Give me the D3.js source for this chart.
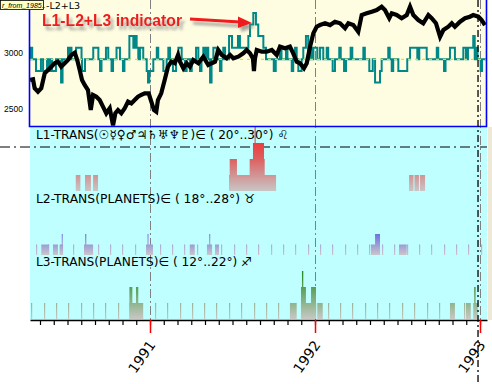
<!DOCTYPE html>
<html><head><meta charset="utf-8">
<script src="https://cdn.jsdelivr.net/npm/d3@7"></script>
<style>body{margin:0;background:#fff}svg{display:block}</style>
</head><body><svg id="c" width="492" height="384"></svg>
<script>
// ---------- DATA (x values in decimal years) ----------
const xDomain = [1990.2727, 1993.0424];
const priceYears = [1990.273,1990.291,1990.301,1990.321,1990.341,1990.362,1990.382,1990.402,1990.422,1990.442,1990.462,1990.483,1990.503,1990.523,1990.544,1990.559,1990.574,1990.588,1990.604,1990.624,1990.641,1990.655,1990.675,1990.695,1990.715,1990.735,1990.756,1990.776,1990.790,1990.806,1990.826,1990.847,1990.867,1990.887,1990.907,1990.927,1990.947,1990.968,1990.992,1991.008,1991.024,1991.038,1991.048,1991.068,1991.089,1991.109,1991.129,1991.150,1991.170,1991.182,1991.202,1991.222,1991.242,1991.262,1991.293,1991.323,1991.353,1991.374,1991.394,1991.414,1991.435,1991.465,1991.485,1991.505,1991.535,1991.565,1991.586,1991.606,1991.624,1991.630,1991.636,1991.647,1991.677,1991.707,1991.738,1991.768,1991.788,1991.818,1991.848,1991.868,1991.889,1991.909,1991.933,1991.950,1991.970,1991.990,1992.010,1992.030,1992.061,1992.091,1992.121,1992.152,1992.182,1992.202,1992.232,1992.262,1992.283,1992.313,1992.344,1992.374,1992.404,1992.424,1992.450,1992.465,1992.495,1992.525,1992.556,1992.576,1992.596,1992.626,1992.656,1992.687,1992.707,1992.733,1992.758,1992.778,1992.808,1992.829,1992.848,1992.879,1992.909,1992.939,1992.959,1992.990,1993.010,1993.030];
const priceValues = [2758,2764,2683,2653,2683,2818,2847,2877,2908,2922,2877,2908,2937,2982,3003,2937,2847,2758,2713,2668,2488,2623,2608,2578,2518,2459,2504,2350,2459,2488,2459,2504,2563,2548,2578,2608,2623,2638,2638,2563,2488,2473,2578,2638,2758,2877,2922,2908,2982,2922,2863,2908,2877,2937,2908,2967,2892,2908,2922,3027,2982,2952,2982,2952,2967,2997,3027,2997,2950,2838,2950,3027,3012,3012,3027,2982,3057,3042,3057,2997,2922,2908,2863,2908,3057,3177,3236,3251,3267,3251,3281,3267,3222,3267,3251,3191,3341,3356,3371,3386,3416,3386,3312,3356,3341,3312,3341,3416,3341,3296,3267,3341,3312,3267,3146,3206,3236,3267,3236,3281,3312,3326,3341,3326,3296,3251];
const priceTicks = [2500, 3000];
// L1-L2+L3 indicator: [start, end, value]
const indicator = [
[1990.277,1990.286,1],[1990.309,1990.339,-1],[1990.352,1990.376,-1],[1990.382,1990.394,-1],[1990.406,1990.430,-1],
[1990.461,1990.470,-2],[1990.503,1990.512,1],[1990.515,1990.524,1],[1990.552,1990.585,1],[1990.588,1990.606,-1],
[1990.656,1990.687,1],[1990.697,1990.706,-1],[1990.733,1990.747,1],[1990.767,1990.776,-1],[1990.797,1990.818,1],
[1990.836,1990.845,-1],[1990.875,1990.899,2],[1990.899,1990.909,1],[1990.909,1990.919,2],[1990.919,1990.929,1],
[1990.939,1990.959,1],[1990.980,1990.988,-1],[1990.988,1990.996,-2],[1990.996,1991.020,-1],[1991.041,1991.050,1],
[1991.081,1991.101,-1],[1991.111,1991.121,1],[1991.139,1991.158,-1],[1991.172,1991.192,1],[1991.212,1991.222,-1],
[1991.242,1991.253,-1],[1991.279,1991.293,1],[1991.303,1991.312,-1],[1991.323,1991.333,1],[1991.344,1991.353,1],
[1991.364,1991.373,-2],[1991.384,1991.404,1],[1991.424,1991.433,-1],[1991.444,1991.455,1],[1991.479,1991.497,2],
[1991.497,1991.533,1],[1991.533,1991.545,2],[1991.545,1991.596,1],[1991.596,1991.606,2],[1991.606,1991.626,3],
[1991.626,1991.642,4],[1991.642,1991.656,3],[1991.656,1991.687,2],[1991.687,1991.703,1],[1991.750,1991.762,-1],
[1991.788,1991.797,1],[1991.824,1991.833,1],[1991.859,1991.868,-1],[1991.879,1991.889,1],[1991.899,1991.919,-1],
[1991.929,1991.945,1],[1991.945,1991.959,2],[1991.970,1991.979,1],[1991.990,1992.014,1],[1992.030,1992.050,1],
[1992.071,1992.080,1],[1992.107,1992.121,-1],[1992.147,1992.156,1],[1992.176,1992.188,-1],[1992.216,1992.226,1],
[1992.293,1992.302,1],[1992.329,1992.350,-1],[1992.364,1992.394,-2],[1992.394,1992.404,-1],[1992.444,1992.453,1],
[1992.465,1992.474,-1],[1992.505,1992.559,-1],[1992.576,1992.620,1],[1992.632,1992.677,1],[1992.738,1992.747,1],
[1992.782,1992.791,-1],[1992.818,1992.848,1],[1992.899,1992.915,1],[1992.927,1992.959,1],[1992.959,1992.968,2],
[1992.976,1992.985,1],[1993.004,1993.012,-1]];
// L1 transits histogram: [start, end, count]
const l1Bars = [[1990.550,1990.578,1],[1990.606,1990.642,1],[1990.655,1990.685,1],
[1991.479,1991.764,1],[1991.483,1991.527,2],[1991.604,1991.695,2],[1991.624,1991.691,3],[1991.634,1991.640,4],
[1992.570,1992.597,1],[1992.603,1992.630,1],[1992.636,1992.667,1]];
// L2 transits histogram
const l2Bars = [[1990.341,1990.388,1],[1990.412,1990.442,1],[1990.452,1990.473,1],[1990.465,1990.471,2],
[1990.600,1990.655,1],[1990.607,1990.614,2],[1990.976,1991.018,1],[1990.985,1990.991,2],
[1991.241,1991.271,1],[1991.345,1991.376,1],[1991.359,1991.365,2],[1991.394,1991.418,1],
[1992.339,1992.394,1],[1992.364,1992.394,2],[1992.509,1992.556,1]];
const l2Ticks = [1990.309,1990.384,1990.459,1990.534,1990.608,1990.684,1990.758,1990.833,1990.908,1990.983,1991.058,1991.133,1991.207,1991.282,1991.357,1991.432,1991.507,1991.582,1991.656,1991.732,1991.806,1991.881,1991.956,1992.031,1992.105,1992.181,1992.255,1992.330,1992.405,1992.480,1992.555,1992.630,1992.704,1992.779,1992.854,1992.929,1993.004];
// L3 transits histogram
const l3Bars = [[1990.875,1990.956,1],[1990.875,1990.893,2],[1990.915,1990.929,2],
[1991.848,1991.889,1],[1991.915,1992.006,1],[1991.915,1991.945,2],[1991.921,1991.929,3],[1991.976,1992.006,2],
[1992.014,1992.047,1],[1992.818,1992.848,1],[1992.915,1992.944,1],[1992.959,1992.986,1],[1992.964,1992.974,2]];
const l3Ticks = [1990.281,1990.355,1990.430,1990.505,1990.580,1990.655,1990.730,1990.805,1990.879,1990.954,1991.029,1991.104,1991.179,1991.254,1991.328,1991.403,1991.478,1991.553,1991.628,1991.703,1991.778,1991.852,1991.927,1992.002,1992.077,1992.152,1992.227,1992.302,1992.376,1992.451,1992.526,1992.601,1992.676,1992.751,1992.825,1992.900,1992.975];
const yearLabels = [1991, 1992, 1993];
const markerYear = 1992.988;
const panelTitles = ["L1-TRANS(\u2609\u263F\u2640\u2642\u2643\u2644\u2645\u2646\u2647)\u2208 ( 20°..30°) \u264C",
                     "L2-TRANS(PLANETS)\u2208 ( 18°..28°) \u2649",
                     "L3-TRANS(PLANETS)\u2208 ( 12°..22°) \u2650"];
const annotation = "L1-L2+L3 indicator";
const windowTitle = "r_from_1985..";
const chartTitle = "-L2+L3";

// ---------- DRAW ----------
const svg = d3.select("#c");
const L = 30, R = 487;
const x = d3.scaleLinear().domain(xDomain).range([L, R]);
const yP = d3.scaleLinear().domain([2500, 3000]).range([108.7, 53]);
const yI = d3.scaleLinear().domain([0, 1]).range([59.3, 47.7]);
const y1 = d3.scaleLinear().domain([0, 1]).range([191, 175]);
const y2 = d3.scaleLinear().domain([0, 1]).range([255, 244.5]);
const y3 = d3.scaleLinear().domain([0, 1]).range([319, 303]);

const defs = svg.append("defs");
defs.append("clipPath").attr("id","topclip").append("rect").attr("x",L).attr("y",0).attr("width",R-L).attr("height",126);
function grad(id, yTop, yBot, stops){
  const g = defs.append("linearGradient").attr("id",id).attr("gradientUnits","userSpaceOnUse")
    .attr("x1",0).attr("x2",0).attr("y1",yTop).attr("y2",yBot);
  stops.forEach(s=>g.append("stop").attr("offset",s[0]).attr("stop-color",s[1]));
}
grad("g1", y1(4), y1(0), [[0,"#ff1818"],[0.5,"#dd6060"],[1,"#c8c6c6"]]);
grad("g2", y2(2), y2(0), [[0,"#7070dc"],[1,"#cac6cc"]]);
grad("g3", y3(3), y3(0), [[0,"#1e8a1e"],[1,"#c8c8c4"]]);
grad("g2t", y2(1), y2(0), [[0,"#b0a8d8"],[1,"#c8c4cc"]]);
grad("g3t", y3(1), y3(0), [[0,"#98b498"],[1,"#c4c8c4"]]);
const flt = defs.append("filter").attr("id","sh").attr("x","-20%").attr("y","-50%").attr("width","140%").attr("height","200%");
flt.append("feDropShadow").attr("dx",3).attr("dy",4).attr("stdDeviation",1.8).attr("flood-color","#808080").attr("flood-opacity",0.7);

svg.append("rect").attr("width",492).attr("height",384).attr("fill","#fff");
svg.append("rect").attr("x",L).attr("y",0).attr("width",R-L).attr("height",127).attr("fill","#fffde1");
svg.append("rect").attr("x",L).attr("y",127).attr("width",R-L).attr("height",193).attr("fill","#bfffff");

// vertical dash-dot year lines
svg.selectAll(".yl").data(yearLabels).join("line")
  .attr("x1",d=>x(d)+0.5).attr("x2",d=>x(d)+0.5).attr("y1",0).attr("y2",320)
  .attr("stroke","#808080").attr("stroke-width",1).attr("stroke-dasharray","9 3 2 3");
// horizontal dash-dot
svg.append("line").attr("x1",0).attr("x2",R).attr("y1",147).attr("y2",147)
  .attr("stroke","#000").attr("stroke-width",1).attr("stroke-dasharray","10 4 2 4");

// histograms
function bars(data, ys, fill){
  svg.append("g").selectAll("rect").data(data).join("rect")
    .attr("x",d=>x(d[0])).attr("width",d=>Math.max(1,x(d[1])-x(d[0])))
    .attr("y",d=>ys(d[2])).attr("height",d=>ys(0)-ys(d[2])).attr("fill",fill);
}
function ticks(data, ys, fill){
  svg.append("g").selectAll("rect").data(data).join("rect")
    .attr("x",d=>Math.round(x(d))).attr("width",1.2)
    .attr("y",ys(1)).attr("height",ys(0)-ys(1)).attr("fill",fill);
}
ticks(l2Ticks, y2, "url(#g2t)");
ticks(l3Ticks, y3, "url(#g3t)");
bars(l1Bars, y1, "url(#g1)");
bars(l2Bars, y2, "url(#g2)");
bars(l3Bars, y3, "url(#g3)");

// panel titles
const tLen = [252, 219, 216], tY = [139, 203, 266];
svg.selectAll(".pt").data(panelTitles).join("text")
  .attr("x",36).attr("y",(d,i)=>tY[i]).attr("textLength",(d,i)=>tLen[i]).attr("lengthAdjust","spacingAndGlyphs")
  .attr("font-family","DejaVu Sans").attr("font-size",12.5).attr("fill","#000").text(d=>d);

// top panel series
const topG = svg.append("g").attr("clip-path","url(#topclip)");
const segs = indicator.slice().sort((a,b)=>a[0]-b[0]);
const p = d3.path(); let cx = x(xDomain[0]); let cl = 0;
p.moveTo(cx, yI(0));
segs.forEach(s=>{
  const a = x(s[0]), b = x(s[1]);
  if (a > cx + 0.01) { if (cl!==0) p.lineTo(cx, yI(0)); p.lineTo(a, yI(0)); }
  p.lineTo(a, yI(s[2])); p.lineTo(b, yI(s[2]));
  cx = b; cl = s[2];
});
if (cl!==0) p.lineTo(cx, yI(0));
p.lineTo(x(xDomain[1]), yI(0));
topG.append("path").attr("d",p.toString()).attr("fill","none").attr("stroke","#008888").attr("stroke-width",2);
topG.append("line").attr("x1",L).attr("x2",R).attr("y1",yI(0)).attr("y2",yI(0))
  .attr("stroke","#f0e000").attr("stroke-width",1.2).attr("stroke-dasharray","3 4");
const priceData = d3.zip(priceYears, priceValues);
topG.append("path").datum(priceData)
  .attr("d", d3.line().x(d=>x(d[0])).y(d=>yP(d[1])))
  .attr("fill","none").attr("stroke","#000").attr("stroke-width",4.2).attr("stroke-linejoin","miter");

// top panel border
svg.append("path").attr("d",`M${L-0.5},0V${126.5}H${R-0.5}V0`).attr("fill","none").attr("stroke","#0000ff").attr("stroke-width",1.6);

// beige strip
svg.append("rect").attr("x",488).attr("y",127).attr("width",4).attr("height",193).attr("fill","#ece9d8");

// x axis
const monthTicks = d3.range(4, 37).map(k=>1990 + k/12);
const ax = svg.append("g").attr("transform","translate(0,320)")
  .call(d3.axisBottom(x).tickValues(monthTicks).tickSize(5).tickSizeOuter(0).tickFormat(""));
ax.select(".domain").attr("stroke","#000").attr("stroke-width",1.5);
ax.selectAll(".tick line").attr("stroke","#000").attr("stroke-width",1.2);
svg.selectAll(".rt").data(yearLabels).join("line")
  .attr("x1",d=>x(d)+0.5).attr("x2",d=>x(d)+0.5).attr("y1",320).attr("y2",333)
  .attr("stroke","#ff0000").attr("stroke-width",1.5);
// marker dashed line
svg.append("line").attr("x1",x(markerYear)).attr("x2",x(markerYear)).attr("y1",0).attr("y2",384)
  .attr("stroke","#000").attr("stroke-width",1.3).attr("stroke-dasharray","7 3 2 3");

// year labels
svg.selectAll(".yt").data(yearLabels).join("text")
  .attr("transform",d=>`translate(${x(d)+6},345) rotate(-55)`)
  .attr("text-anchor","end").attr("font-family","DejaVu Sans").attr("font-size",14).attr("fill","#000").text(d=>d);

// y labels
svg.selectAll(".pl").data(priceTicks).join("text")
  .attr("x",23).attr("y",d=>yP(d)+3).attr("text-anchor","end")
  .attr("font-family","Liberation Sans, Arial").attr("font-size",8.5).attr("fill","#000").text(d=>d);

// window title box
svg.append("rect").attr("x",0.5).attr("y",0.5).attr("width",43).attr("height",9).attr("fill","#ffffc0").attr("stroke","#000").attr("stroke-width",0.8);
svg.append("text").attr("x",2).attr("y",7.5).attr("font-family","Liberation Sans, Arial").attr("font-size",7).attr("font-style","italic").text(windowTitle);
svg.append("text").attr("x",46).attr("y",9.3).attr("font-family","DejaVu Sans").attr("font-size",9.5).attr("fill","#000").text(chartTitle);

// annotation
const an = svg.append("g").attr("filter","url(#sh)");
an.append("text").attr("x",42).attr("y",26.3).attr("textLength",140).attr("lengthAdjust","spacingAndGlyphs")
  .attr("font-family","Liberation Sans, Arial").attr("font-weight","bold").attr("font-size",16).attr("fill","#ee1c1c").text(annotation);
an.append("line").attr("x1",190).attr("y1",19).attr("x2",240).attr("y2",22).attr("stroke","#ee1c1c").attr("stroke-width",3);
an.append("path").attr("d","M252,23 L238,16.5 L238,28 Z").attr("fill","#ee1c1c");
</script></body></html>
